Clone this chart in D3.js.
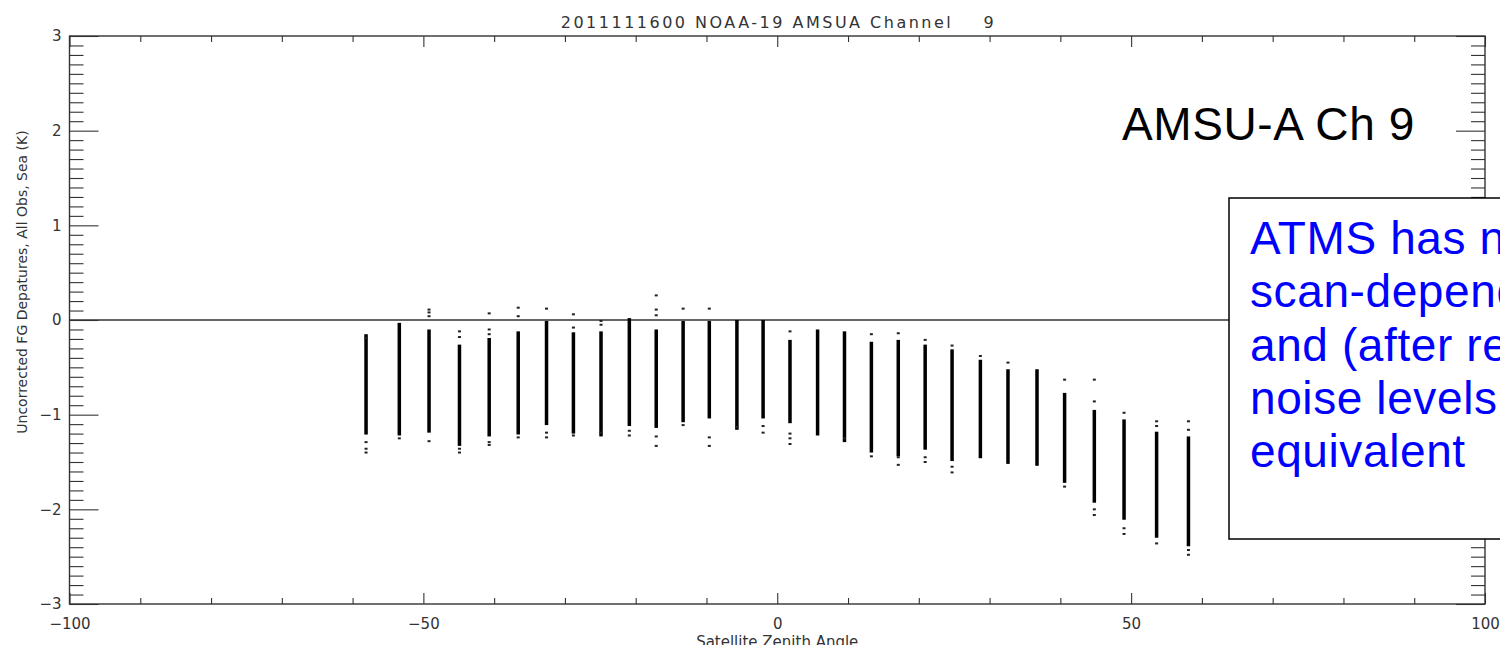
<!DOCTYPE html>
<html>
<head>
<meta charset="utf-8">
<script src="https://cdn.jsdelivr.net/npm/d3@7"></script>
<style>
  html, body { margin: 0; padding: 0; background: #fff; overflow: hidden; }
  svg { display: block; }
  .tick text { font-family: "DejaVu Sans", sans-serif; fill: #333; }
</style>
</head>
<body>
<svg id="chart" width="1500" height="645"></svg>
<script>
// Scan positions (satellite zenith angle, degrees)
const zenithAngles = [-58.1, -53.4, -49.2, -44.9, -40.7, -36.6, -32.6, -28.8, -24.9, -20.9,
                      -17.1, -13.3, -9.6, -5.7, -2.0, 1.8, 5.7, 9.5, 13.3, 17.1,
                      20.9, 24.7, 28.7, 32.6, 36.7, 40.6, 44.8, 49.0, 53.6, 58.1];
// Upper / lower edge of the densely populated departure range per scan position (K)
const coreUpper = [-0.15, -0.03, -0.10, -0.26, -0.19, -0.12, -0.01, -0.13, -0.12, 0.02,
                   -0.10, -0.01, -0.01, 0.00, 0.00, -0.21, -0.10, -0.12, -0.23, -0.21,
                   -0.26, -0.31, -0.42, -0.52, -0.52, -0.77, -0.95, -1.05, -1.18, -1.23];
const coreLower = [-1.21, -1.22, -1.19, -1.33, -1.23, -1.21, -1.11, -1.20, -1.23, -1.12,
                   -1.14, -1.08, -1.04, -1.16, -1.04, -1.09, -1.22, -1.29, -1.40, -1.44,
                   -1.37, -1.49, -1.46, -1.52, -1.54, -1.72, -1.93, -2.11, -2.30, -2.39];
// Isolated departures outside the dense range (K)
const outliers = [
  [-0.19, -1.29, -1.36, -1.40],
  [-1.25],
  [0.11, 0.08, 0.04, -1.28],
  [-0.12, -0.18, -1.36, -1.40],
  [0.07, -0.10, -0.15, -1.29, -1.32],
  [0.13, 0.04, -1.24],
  [0.12, -1.19, -1.24],
  [0.06, -0.08, -1.22],
  [-0.01, -0.05, -1.19],
  [-1.17, -1.22],
  [0.26, 0.11, 0.05, -1.23, -1.33],
  [0.12, -1.11],
  [0.12, -1.24, -1.33],
  [-1.13],
  [-1.12, -1.19],
  [-0.12, -1.20, -1.25, -1.31],
  [],
  [-1.25],
  [-0.15, -1.44],
  [-0.14, -1.45, -1.53],
  [-0.21, -1.45, -1.50],
  [-0.27, -1.55, -1.61],
  [-0.38],
  [-0.45],
  [],
  [-0.63, -1.76],
  [-0.63, -0.86, -2.00, -2.06],
  [-0.98, -2.20, -2.26],
  [-1.07, -1.12, -2.36],
  [-1.07, -1.16, -2.43, -2.48]
];

const xMajorTicks = [-100, -50, 0, 50, 100];
const xMinorTicks = d3.range(-90, 100, 10).filter(v => v % 50 !== 0);
const yMajorTicks = [-3, -2, -1, 0, 1, 2, 3];
const yMinorTicks = d3.range(-29, 30).map(v => v / 10).filter(v => Math.abs(v % 1) > 1e-9);

const titleText = "2011111600 NOAA-19 AMSUA Channel    9";
const xTitle = "Satellite Zenith Angle";
const yTitle = "Uncorrected FG Depatures, All Obs, Sea (K)";
const panelLabel = "AMSU-A Ch 9";
const noteLines = ["ATMS has no", "scan-dependent bias", "and (after remapping)", "noise levels", "equivalent"];

const svg = d3.select("#chart");
const plotLeft = 69.5, plotRight = 1485, plotTop = 36, plotBottom = 604;

const x = d3.scaleLinear().domain([-100, 100]).range([plotLeft, plotRight]);
const y = d3.scaleLinear().domain([-3, 3]).range([plotBottom, plotTop]);

const axisColor = "#333";

function styleAxis(g) {
  g.select(".domain").remove();
  g.selectAll(".tick line").attr("stroke", axisColor).attr("stroke-width", 1.1);
}

// Bottom and top axes (ticks point into the plot)
svg.append("g").attr("transform", `translate(0,${plotBottom})`)
  .call(d3.axisTop(x).tickValues(xMajorTicks).tickSize(11).tickFormat("")).call(styleAxis);
svg.append("g").attr("transform", `translate(0,${plotBottom})`)
  .call(d3.axisTop(x).tickValues(xMinorTicks).tickSize(6).tickFormat("")).call(styleAxis);
svg.append("g").attr("transform", `translate(0,${plotTop})`)
  .call(d3.axisBottom(x).tickValues(xMajorTicks).tickSize(11).tickFormat("")).call(styleAxis);
svg.append("g").attr("transform", `translate(0,${plotTop})`)
  .call(d3.axisBottom(x).tickValues(xMinorTicks).tickSize(6).tickFormat("")).call(styleAxis);
// x tick labels
svg.append("g").attr("transform", `translate(0,${plotBottom})`)
  .call(d3.axisBottom(x).tickValues(xMajorTicks).tickSize(0).tickPadding(14).tickFormat(d3.format("d")))
  .call(g => { g.select(".domain").remove(); g.selectAll("text").style("font-size", "15px"); });

// Left and right axes
svg.append("g").attr("transform", `translate(${plotLeft},0)`)
  .call(d3.axisRight(y).tickValues(yMajorTicks).tickSize(29).tickFormat("")).call(styleAxis);
svg.append("g").attr("transform", `translate(${plotLeft},0)`)
  .call(d3.axisRight(y).tickValues(yMinorTicks).tickSize(14).tickFormat("")).call(styleAxis);
svg.append("g").attr("transform", `translate(${plotRight},0)`)
  .call(d3.axisLeft(y).tickValues(yMajorTicks).tickSize(29).tickFormat("")).call(styleAxis);
svg.append("g").attr("transform", `translate(${plotRight},0)`)
  .call(d3.axisLeft(y).tickValues(yMinorTicks).tickSize(14).tickFormat("")).call(styleAxis);
// y tick labels
svg.append("g").attr("transform", `translate(${plotLeft},0)`)
  .call(d3.axisLeft(y).tickValues(yMajorTicks).tickSize(0).tickPadding(8).tickFormat(d3.format("d")))
  .call(g => { g.select(".domain").remove(); g.selectAll("text").style("font-size", "15px"); });

// Plot frame
svg.append("rect")
  .attr("x", plotLeft).attr("y", plotTop)
  .attr("width", plotRight - plotLeft).attr("height", plotBottom - plotTop)
  .attr("fill", "none").attr("stroke", axisColor).attr("stroke-width", 1.4);

// Zero departure line
svg.append("line")
  .attr("x1", x(-100)).attr("x2", x(100))
  .attr("y1", y(0)).attr("y2", y(0))
  .attr("stroke", "#333").attr("stroke-width", 1.6);

// Dense departure ranges per scan position
const cols = zenithAngles.map((a, i) => ({ a, hi: coreUpper[i], lo: coreLower[i], out: outliers[i] }));
svg.append("g").selectAll("rect")
  .data(cols).join("rect")
  .attr("x", d => x(d.a) - 1.75)
  .attr("width", 3.5)
  .attr("y", d => y(d.hi))
  .attr("height", d => y(d.lo) - y(d.hi))
  .attr("fill", "#000");

// Isolated departures
const pts = cols.flatMap(d => d.out.map(v => ({ a: d.a, v })));
svg.append("g").selectAll("rect")
  .data(pts).join("rect")
  .attr("x", d => x(d.a) - 1.5)
  .attr("y", d => y(d.v) - 1)
  .attr("width", 3).attr("height", 2)
  .attr("fill", "#222");

// Titles
svg.append("text")
  .attr("x", x(0)).attr("y", 28)
  .attr("text-anchor", "middle")
  .attr("textLength", 433).attr("lengthAdjust", "spacing")
  .style("white-space", "pre")
  .style("font-family", "DejaVu Sans, sans-serif").style("font-size", "16px").attr("fill", "#333")
  .text(titleText);

svg.append("text")
  .attr("x", x(0)).attr("y", 647)
  .attr("text-anchor", "middle")
  .style("font-family", "DejaVu Sans, sans-serif").style("font-size", "15px").attr("fill", "#333")
  .text(xTitle);

svg.append("text")
  .attr("transform", "translate(27,282) rotate(-90)")
  .attr("text-anchor", "middle")
  .style("font-family", "DejaVu Sans, sans-serif").style("font-size", "14px").attr("fill", "#333")
  .text(yTitle);

// Panel label
svg.append("text")
  .attr("x", 1122).attr("y", 140)
  .style("font-family", "Liberation Sans, Arial, sans-serif").style("font-size", "46px")
  .style("letter-spacing", "0.6px").attr("fill", "#000")
  .text(panelLabel);

// Annotation box
svg.append("rect")
  .attr("x", 1229).attr("y", 198)
  .attr("width", 320).attr("height", 341)
  .attr("fill", "#fff").attr("stroke", "#000").attr("stroke-width", 1.5);

svg.append("g").selectAll("text")
  .data(noteLines).join("text")
  .attr("x", 1250)
  .attr("y", (d, i) => 254 + i * 53.3)
  .style("font-family", "Liberation Sans, Arial, sans-serif").style("font-size", "46px")
  .style("letter-spacing", "0.6px")
  .attr("fill", "#0000ff")
  .text(d => d);
</script>
</body>
</html>
